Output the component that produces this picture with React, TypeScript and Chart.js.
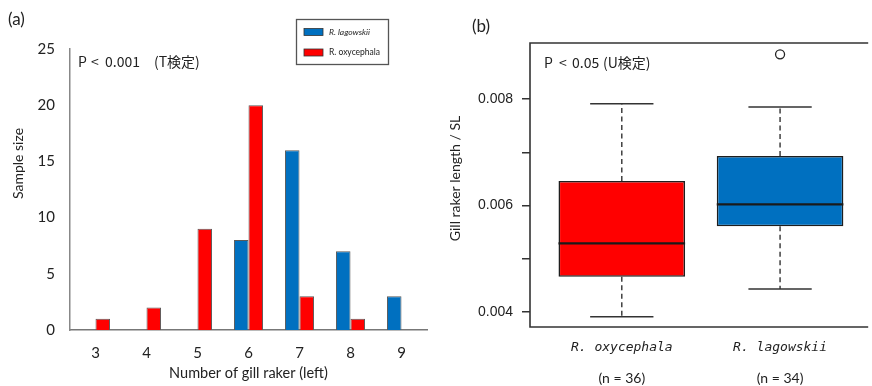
import { useEffect, useRef } from 'react';
import { Chart, registerables } from 'chart.js';

Chart.register(...registerables);

// ---------- Panel (a): histogram of gill raker counts ----------
const rakerCounts = ['3', '4', '5', '6', '7', '8', '9'];
const lagowskiiCounts = [0, 0, 0, 8, 16, 7, 3];
const oxycephalaCounts = [1, 2, 9, 20, 3, 1, 0];
const seriesNames = ['R. lagowskii', 'R. oxycephala'];
const sampleTicks = [0, 5, 10, 15, 20, 25];

// ---------- Panel (b): boxplot of gill raker length / SL ----------
const boxSpecies = ['R. oxycephala', 'R. lagowskii'];
const boxCounts = ['(n = 36)', '(n = 34)'];
const whiskerLow = [0.00391, 0.00443];
const quartile1 = [0.00466, 0.00561];
const medians = [0.00529, 0.00602];
const quartile3 = [0.00646, 0.00693];
const whiskerHigh = [0.00791, 0.00785];
const outlierValues = [[], [0.00884]];
const ratioTicks = [0.004, 0.005, 0.006, 0.007, 0.008];
const ratioTickLabels = ['0.004', '', '0.006', '', '0.008'];

const BLUE = '#0070c0';
const RED = '#ff0000';
const boxColors = [RED, BLUE];
const INK = '#222222';
const CJK = '"Noto Sans CJK JP", "Noto Sans", sans-serif';
const SANS = 'Lato, "Open Sans", sans-serif';

function drawPieces(ctx: CanvasRenderingContext2D, pieces: [string, number][], y: number) {
  ctx.save();
  ctx.font = `14px ${CJK}`;
  ctx.fillStyle = INK;
  ctx.textAlign = 'left';
  ctx.textBaseline = 'middle';
  pieces.forEach(([t, x]) => ctx.fillText(t, x, y));
  ctx.restore();
}

function rotatedText(ctx: CanvasRenderingContext2D, text: string, x: number, y: number, font: string) {
  ctx.save();
  ctx.translate(x, y);
  ctx.rotate(-Math.PI / 2);
  ctx.font = font;
  ctx.fillStyle = INK;
  ctx.textAlign = 'center';
  ctx.textBaseline = 'middle';
  ctx.fillText(text, 0, 0);
  ctx.restore();
}

const panelAPlugin = {
  id: 'panelA',
  afterDraw(chart: any) {
    const ctx: CanvasRenderingContext2D = chart.ctx;
    ctx.save();
    // panel tag
    ctx.font = `17px ${SANS}`;
    ctx.fillStyle = INK;
    ctx.textBaseline = 'middle';
    ctx.textAlign = 'left';
    ctx.fillText('(a)', 8, 20);
    ctx.restore();

    drawPieces(ctx, [['P', 78], ['<', 91], ['0.001', 105], ['(T検定)', 154]], 62);
    rotatedText(ctx, 'Sample size', 18, 163.5, `14px ${SANS}`);

    // legend box
    ctx.save();
    ctx.fillStyle = '#ffffff';
    ctx.fillRect(296, 19, 93, 46);
    ctx.strokeStyle = '#555555';
    ctx.lineWidth = 1.3;
    ctx.strokeRect(296.5, 19.5, 92, 45);
    const ds = chart.data.datasets;
    const rows = [32, 52.5];
    ds.forEach((d: any, i: number) => {
      const y = rows[i];
      ctx.fillStyle = d.backgroundColor;
      ctx.fillRect(304, y - 3.5, 19, 7);
      ctx.strokeStyle = '#333333';
      ctx.lineWidth = 0.8;
      ctx.strokeRect(304, y - 3.5, 19, 7);
      ctx.fillStyle = INK;
      ctx.font = `${i === 0 ? 'italic ' : ''}8.5px ${SANS}`;
      ctx.textBaseline = 'middle';
      ctx.textAlign = 'left';
      ctx.fillText(d.label, 329, y);
    });
    ctx.restore();
  },
};

const panelBPlugin = {
  id: 'panelB',
  afterDatasetsDraw(chart: any) {
    const ctx: CanvasRenderingContext2D = chart.ctx;
    const xs = chart.scales.x;
    const ys = chart.scales.y;
    ctx.save();
    ctx.strokeStyle = INK;
    boxSpecies.forEach((_, i) => {
      const c = xs.getPixelForValue(i + 1);
      const capL = xs.getPixelForValue(i + 1 - 0.2);
      const capR = xs.getPixelForValue(i + 1 + 0.2);
      const boxL = xs.getPixelForValue(i + 1 - 0.4);
      const boxR = xs.getPixelForValue(i + 1 + 0.4);
      // whiskers
      ctx.setLineDash([5, 3.5]);
      ctx.lineWidth = 1.4;
      ctx.strokeStyle = '#333333';
      ctx.beginPath();
      ctx.moveTo(c, ys.getPixelForValue(quartile3[i]));
      ctx.lineTo(c, ys.getPixelForValue(whiskerHigh[i]));
      ctx.moveTo(c, ys.getPixelForValue(quartile1[i]));
      ctx.lineTo(c, ys.getPixelForValue(whiskerLow[i]));
      ctx.stroke();
      ctx.setLineDash([]);
      // caps
      ctx.lineWidth = 1.5;
      ctx.beginPath();
      const yh = ys.getPixelForValue(whiskerHigh[i]);
      const yl = ys.getPixelForValue(whiskerLow[i]);
      ctx.moveTo(capL, yh);
      ctx.lineTo(capR, yh);
      ctx.moveTo(capL, yl);
      ctx.lineTo(capR, yl);
      ctx.stroke();
      // median
      ctx.lineWidth = 2.2;
      ctx.strokeStyle = '#1a1a1a';
      const ym = ys.getPixelForValue(medians[i]);
      ctx.beginPath();
      ctx.moveTo(boxL, ym);
      ctx.lineTo(boxR, ym);
      ctx.stroke();
    });
    ctx.restore();
  },
  afterDraw(chart: any) {
    const ctx: CanvasRenderingContext2D = chart.ctx;
    const { left, top, right, bottom } = chart.chartArea;
    const xs = chart.scales.x;
    ctx.save();
    // frame
    ctx.strokeStyle = '#333333';
    ctx.lineWidth = 1.6;
    ctx.beginPath();
    ctx.moveTo(right + 2, top);
    ctx.lineTo(left, top);
    ctx.lineTo(left, bottom);
    ctx.lineTo(right + 2, bottom);
    ctx.stroke();
    // sample sizes
    ctx.font = `14px ${SANS}`;
    ctx.fillStyle = INK;
    ctx.textAlign = 'center';
    ctx.textBaseline = 'middle';
    boxCounts.forEach((t, i) => ctx.fillText(t, xs.getPixelForValue(i + 1), 378));
    // panel tag
    ctx.font = `17px ${SANS}`;
    ctx.textAlign = 'left';
    ctx.fillText('(b)', 32, 27);
    ctx.restore();

    drawPieces(ctx, [['P', 104], ['<', 119], ['0.05', 132], ['(U検定)', 163]], 63);
    rotatedText(ctx, 'Gill raker length / SL', 15, 178.5, `14px ${SANS}`);
  },
};

export default function App() {
  const refA = useRef<HTMLCanvasElement>(null);
  const refB = useRef<HTMLCanvasElement>(null);

  useEffect(() => {
    Chart.defaults.font.family = SANS;
    const chartA = new Chart(refA.current!, {
      type: 'bar',
      data: {
        labels: rakerCounts,
        datasets: [
          {
            label: seriesNames[0],
            data: lagowskiiCounts,
            backgroundColor: BLUE,
            borderColor: '#5a5a5a',
            borderWidth: 1,
            barPercentage: 1,
            categoryPercentage: 0.57,
          },
          {
            label: seriesNames[1],
            data: oxycephalaCounts,
            backgroundColor: RED,
            borderColor: '#5a5a5a',
            borderWidth: 1,
            barPercentage: 1,
            categoryPercentage: 0.57,
          },
        ],
      },
      options: {
        animation: false,
        responsive: false,
        maintainAspectRatio: false,
        layout: { padding: { top: 49, right: 13, left: 0, bottom: 0 } },
        plugins: { legend: { display: false }, tooltip: { enabled: false } },
        scales: {
          x: {
            grid: { display: false, drawTicks: false },
            border: { color: '#777777', width: 1.5 },
            ticks: { font: { family: SANS, size: 15 }, color: INK, padding: 14 },
            title: {
              display: true,
              text: 'Number of gill raker (left)',
              font: { family: SANS, size: 14.5 },
              color: INK,
              padding: { top: 0, bottom: 4 },
            },
            afterFit: (s: any) => {
              s.height = 56;
            },
          },
          y: {
            min: 0,
            max: 25,
            afterBuildTicks: (s: any) => {
              s.ticks = sampleTicks.map((v) => ({ value: v }));
            },
            grid: { display: false, drawTicks: false },
            border: { color: '#888888', width: 1.5 },
            ticks: { font: { family: SANS, size: 15 }, color: INK, padding: 15 },
            afterFit: (s: any) => {
              s.width = 70;
            },
          },
        },
      },
      plugins: [panelAPlugin],
    } as any);

    const chartB = new Chart(refB.current!, {
      type: 'bar',
      data: {
        datasets: [
          {
            type: 'bar',
            label: 'box',
            data: boxSpecies.map((_, i) => ({ x: i + 1, y: [quartile1[i], quartile3[i]] })),
            backgroundColor: boxColors,
            borderColor: '#1e1e1e',
            borderWidth: 1.6,
            borderSkipped: false,
            barPercentage: 1,
            categoryPercentage: 0.8,
          },
          {
            type: 'scatter',
            label: 'outliers',
            data: outlierValues.flatMap((vals, i) => vals.map((v) => ({ x: i + 1, y: v }))),
            pointRadius: 4.5,
            pointStyle: 'circle',
            borderColor: '#222222',
            backgroundColor: '#ffffff',
            borderWidth: 1.3,
          },
        ],
      },
      options: {
        animation: false,
        responsive: false,
        maintainAspectRatio: false,
        layout: { padding: { top: 43, right: 0, left: 0, bottom: 0 } },
        plugins: { legend: { display: false }, tooltip: { enabled: false } },
        scales: {
          x: {
            type: 'linear',
            offset: false,
            min: 0.42,
            max: 0.42 + 342 / 161,
            afterBuildTicks: (s: any) => {
              s.ticks = boxSpecies.map((_, i) => ({ value: i + 1 }));
            },
            ticks: {
              callback: (_v: any, i: number) => boxSpecies[i],
              font: { family: '"DejaVu Sans Mono", monospace', size: 13, style: 'italic' },
              color: INK,
              padding: 13,
              maxRotation: 0,
              autoSkip: false,
            },
            grid: { display: false, drawTicks: false, offset: false },
            border: { display: false },
            afterFit: (s: any) => {
              s.height = 59;
            },
          },
          y: {
            type: 'linear',
            beginAtZero: false,
            min: 0.003718,
            max: 0.009052,
            afterBuildTicks: (s: any) => {
              s.ticks = ratioTicks.map((v) => ({ value: v }));
            },
            ticks: {
              callback: (_v: any, i: number) => ratioTickLabels[i],
              font: { family: '"Liberation Sans", Arial, sans-serif', size: 14 },
              color: INK,
              padding: 9,
            },
            grid: {
              display: true,
              drawOnChartArea: false,
              drawTicks: true,
              tickLength: 8,
              tickColor: '#333333',
              tickWidth: 1.5,
              lineWidth: 1.5,
            },
            border: { display: false },
            afterFit: (s: any) => {
              s.width = 90;
            },
          },
        },
      },
      plugins: [panelBPlugin],
    } as any);

    return () => {
      chartA.destroy();
      chartB.destroy();
    };
  }, []);

  return (
    <div
      style={{
        position: 'absolute',
        left: 0,
        top: 0,
        width: 872,
        height: 386,
        overflow: 'hidden',
        background: '#ffffff',
      }}
    >
      <canvas ref={refA} width={440} height={386} style={{ position: 'absolute', left: 0, top: 0 }} />
      <canvas ref={refB} width={432} height={386} style={{ position: 'absolute', left: 440, top: 0 }} />
    </div>
  );
}
